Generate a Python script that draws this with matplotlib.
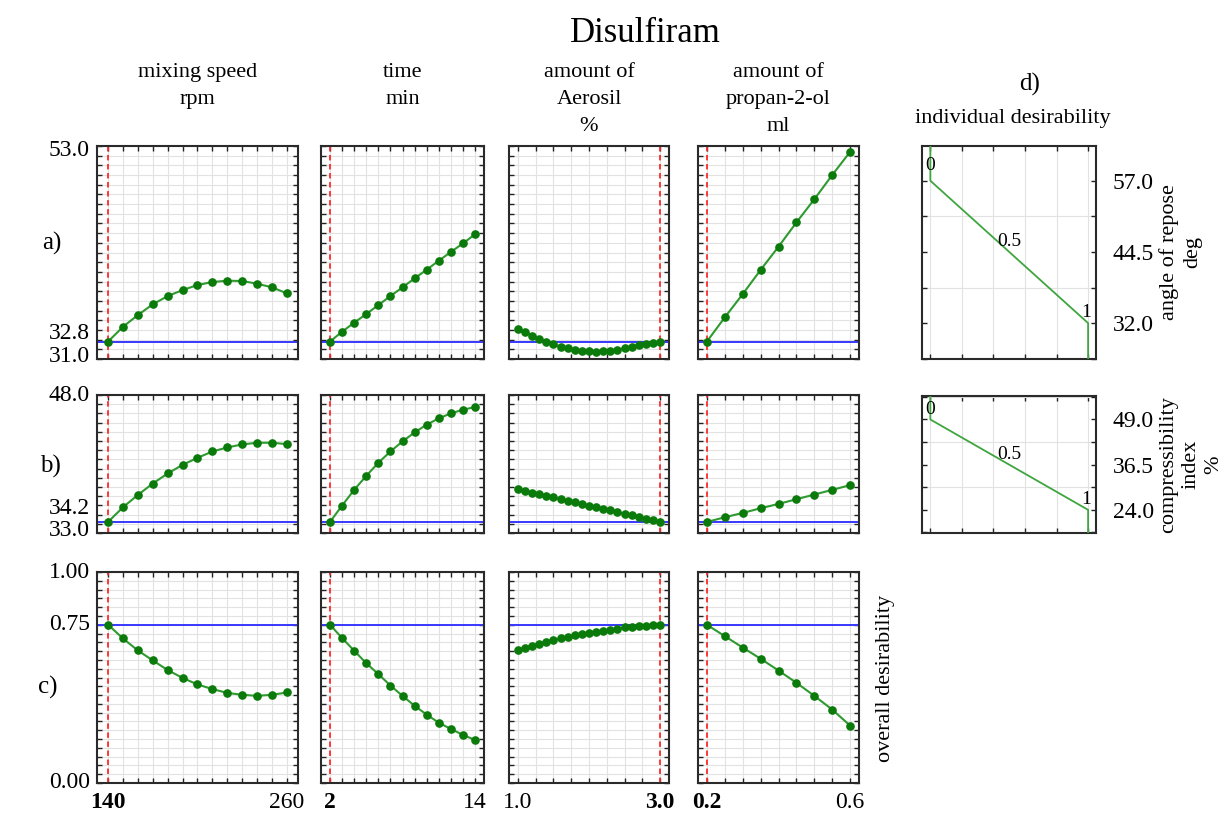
import matplotlib
matplotlib.use("Agg")
import numpy as np
import matplotlib.pyplot as plt
from matplotlib.ticker import MultipleLocator, FixedLocator
from matplotlib.transforms import blended_transform_factory, ScaledTranslation

plt.rcParams['font.family'] = ['Liberation Serif', 'DejaVu Serif']

# ---------------- data ----------------
title = "Disulfiram"
factor_names = ["mixing speed\nrpm", "time\nmin", "amount of\nAerosil\n%", "amount of\npropan-2-ol\nml"]
row_tags = ["a)", "b)", "c)"]

speed = [140, 150, 160, 170, 180, 190, 200, 210, 220, 230, 240, 250, 260]
time_min = [2, 3, 4, 5, 6, 7, 8, 9, 10, 11, 12, 13, 14]
aerosil = [1.0, 1.1, 1.2, 1.3, 1.4, 1.5, 1.6, 1.7, 1.8, 1.9, 2.0,
           2.1, 2.2, 2.3, 2.4, 2.5, 2.6, 2.7, 2.8, 2.9, 3.0]
propanol = [0.2, 0.25, 0.3, 0.35, 0.4, 0.45, 0.5, 0.55, 0.6]

# a) angle of repose (deg)
angle_speed = [32.8, 34.33, 35.54, 36.65, 37.50, 38.12, 38.64, 38.95, 39.09, 39.05, 38.78, 38.40, 37.78]
angle_time = [32.8, 33.82, 34.75, 35.64, 36.57, 37.50, 38.40, 39.33, 40.22, 41.15, 42.05, 42.94, 43.88]
angle_aerosil = [34.10, 33.79, 33.41, 33.06, 32.75, 32.51, 32.27, 32.10, 31.96, 31.86, 31.79,
                 31.75, 31.79, 31.86, 31.96, 32.10, 32.27, 32.45, 32.60, 32.70, 32.80]
angle_propanol = [32.8, 35.3, 37.7, 40.2, 42.6, 45.1, 47.5, 50.0, 52.4]

# b) compressibility index (%)
compress_speed = [34.2, 35.8, 37.14, 38.38, 39.47, 40.41, 41.17, 41.86, 42.30, 42.63, 42.81, 42.81, 42.66]
compress_time = [34.2, 35.98, 37.69, 39.21, 40.63, 41.86, 42.95, 43.93, 44.77, 45.46, 46.0, 46.4, 46.69]
compress_aerosil = [37.76, 37.58, 37.40, 37.23, 37.05, 36.87, 36.69, 36.51, 36.34, 36.16, 35.98,
                    35.80, 35.62, 35.45, 35.27, 35.09, 34.91, 34.73, 34.56, 34.38, 34.20]
compress_propanol = [34.2, 34.71, 35.18, 35.69, 36.16, 36.67, 37.18, 37.69, 38.20]

# c) overall desirability
desir_speed = [0.75, 0.685, 0.628, 0.581, 0.535, 0.498, 0.467, 0.445, 0.427, 0.418, 0.413, 0.418, 0.429]
desir_time = [0.75, 0.687, 0.627, 0.568, 0.516, 0.462, 0.413, 0.366, 0.324, 0.286, 0.256, 0.228, 0.204]
desir_aerosil = [0.630, 0.641, 0.651, 0.660, 0.670, 0.678, 0.686, 0.694, 0.700, 0.707, 0.713,
                 0.718, 0.722, 0.727, 0.732, 0.737, 0.740, 0.743, 0.745, 0.747, 0.750]
desir_propanol = [0.75, 0.696, 0.642, 0.589, 0.533, 0.475, 0.413, 0.348, 0.272]

factor_x = [speed, time_min, aerosil, propanol]
responses = [
    [angle_speed, angle_time, angle_aerosil, angle_propanol],
    [compress_speed, compress_time, compress_aerosil, compress_propanol],
    [desir_speed, desir_time, desir_aerosil, desir_propanol],
]
optimum = [140, 2, 3.0, 0.2]
optimum_response = [32.8, 34.2, 0.75]

x_end_labels = [("140", "260"), ("2", "14"), ("1.0", "3.0"), ("0.2", "0.6")]
y_labels = [[(53.0, "53.0"), (32.8, "32.8"), (31.0, "31.0")],
            [(48.0, "48.0"), (34.2, "34.2"), (33.0, "33.0")],
            [(1.00, "1.00"), (0.75, "0.75"), (0.00, "0.00")]]
y_limits = [(31.0, 53.0), (33.0, 48.0), (0.0, 1.0)]

# individual desirability specs (d=1 at low, d=0 at high)
desir_specs = [("angle of repose\ndeg", 32.0, 57.0, (25.7, 63.1)),
               ("compressibility\nindex\n%", 24.0, 49.0, (17.6, 55.5))]

# ---------------- styling / layout ----------------
W, H = 1232, 816
fig = plt.figure(figsize=(W / 100, H / 100), dpi=100)

def ax_px(x0, y0, x1, y1):
    return fig.add_axes([x0 / W, 1 - y1 / H, (x1 - x0) / W, (y1 - y0) / H])

col_px = [(97, 298), (321, 484), (509, 669), (698, 859)]
row_px = [(146, 359), (395, 533), (572, 783)]
x_steps = [10, 1, 0.25, 0.05]
y_steps = [1.0, 1.0, 1 / 24]

GRID = '#e2e2e2'
MK = '#0a7a0a'
LN = '#2f9a2f'
RED = '#ff2a2a'
BLUE = '#3838ff'
FRAME = '#2a2a2a'
TICKFS = 17

def style_axes(ax):
    for s in ax.spines.values():
        s.set_linewidth(1.5)
        s.set_color(FRAME)
    ax.tick_params(which='both', direction='in', top=True, right=True,
                   length=3.5, width=1.0, color='#222222',
                   labelbottom=False, labelleft=False)
    ax.grid(which='minor', color=GRID, linewidth=0.8)
    ax.grid(which='major', visible=False)
    ax.set_axisbelow(True)

for r in range(3):
    for c in range(4):
        x0, x1 = col_px[c]
        y0, y1 = row_px[r]
        ax = ax_px(x0, y0, x1, y1)
        style_axes(ax)
        xs = factor_x[c]
        ys = responses[r][c]
        span = xs[-1] - xs[0]
        ax.set_xlim(xs[0] - 0.062 * span, xs[-1] + 0.062 * span)
        ax.set_ylim(*y_limits[r])
        ax.xaxis.set_minor_locator(MultipleLocator(x_steps[c]))
        ax.xaxis.set_major_locator(FixedLocator([]))
        ax.yaxis.set_minor_locator(MultipleLocator(y_steps[r]))
        ax.yaxis.set_major_locator(FixedLocator([]))
        ax.axhline(optimum_response[r], color=BLUE, lw=1.4, zorder=2)
        ax.axvline(optimum[c], color=RED, lw=1.3, ls=(0, (3, 2)), zorder=2)
        ax.plot(xs, ys, color=LN, lw=1.5, marker='o', ms=5.2,
                mfc=MK, mec=MK, zorder=3)

        if c == 0:
            tr = blended_transform_factory(ax.transAxes, ax.transData)
            for val, txt in y_labels[r]:
                dy = 0
                if r == 0 and txt == "32.8":
                    dy = 6
                if r == 1 and txt == "34.2":
                    dy = 10
                if txt in ("53.0",):
                    dy = -3
                if txt in ("31.0", "33.0"):
                    dy = 2
                ax.text(-0.035, val, txt,
                        transform=tr + ScaledTranslation(0, dy / 72, fig.dpi_scale_trans),
                        ha='right', va='center', fontsize=TICKFS)
        if r == 2:
            trx = blended_transform_factory(ax.transData, ax.transAxes)
            lo, hi = x_end_labels[c]
            for val, txt in ((xs[0], lo), (xs[-1], hi)):
                bold = abs(val - optimum[c]) < 1e-9
                ax.text(val, -0.045, txt, transform=trx, ha='center', va='top',
                        fontsize=TICKFS, fontweight='bold' if bold else 'normal')
        if r == 0:
            cx = (x0 + x1) / 2
            fig.text(cx / W, 1 - 63 / H, factor_names[c], ha='center', va='top',
                     fontsize=16, linespacing=1.58)
        if r == 2 and c == 3:
            fig.text(886 / W, 1 - 678 / H, "overall desirability", rotation=90,
                     ha='center', va='center', fontsize=16)

# individual desirability panels
d_rows = [row_px[0], (396, 533)]
for i, (lab, low, high, ylim) in enumerate(desir_specs):
    y0, y1 = d_rows[i]
    ax = ax_px(922, y0, 1096, y1)
    style_axes(ax)
    ax.set_xlim(-0.053, 1.05)
    ax.set_ylim(*ylim)
    step = (high - low) / 4
    ax.xaxis.set_minor_locator(MultipleLocator(0.2))
    ax.xaxis.set_major_locator(FixedLocator([]))
    ax.yaxis.set_minor_locator(FixedLocator(list(np.arange(low - 2 * step, high + 2 * step + 0.01, step))))
    ax.yaxis.set_major_locator(FixedLocator([low, (low + high) / 2, high]))
    ax.yaxis.set_major_formatter(plt.FuncFormatter(lambda v, p: f"{v:.1f}"))
    ax.tick_params(which='major', labelright=True, labelsize=TICKFS, pad=12)
    ax.plot([0, 0, 1, 1], [ylim[1], high, low, ylim[0]], color='#3fa53f', lw=1.3, zorder=3)
    ax.text(0.0, high + 0.07 * (ylim[1] - ylim[0]), "0", ha='center', va='center', fontsize=14)
    ax.text(0.5, (low + high) / 2 + 0.01 * (ylim[1] - ylim[0]), "0.5", ha='center', va='bottom', fontsize=14)
    ax.text(0.985, low + 0.01 * (ylim[1] - ylim[0]), "1", ha='center', va='bottom', fontsize=14)
    ax.yaxis.set_label_position('right')
    ax.set_ylabel(lab, fontsize=16, rotation=90, labelpad=4, linespacing=1.25)

fig.text(1030 / W, 1 - 84 / H, "d)", ha='center', va='center', fontsize=18)
fig.text(1013 / W, 1 - 119 / H, "individual desirability", ha='center', va='center', fontsize=16)
fig.text(645 / W, 1 - 33 / H, title, ha='center', va='center', fontsize=25)
for tag, ypx, xpx in zip(row_tags, [243, 466, 687], [52, 50, 48]):
    fig.text(xpx / W, 1 - ypx / H, tag, ha='center', va='center', fontsize=18)

fig.savefig("out.png", dpi=100)
